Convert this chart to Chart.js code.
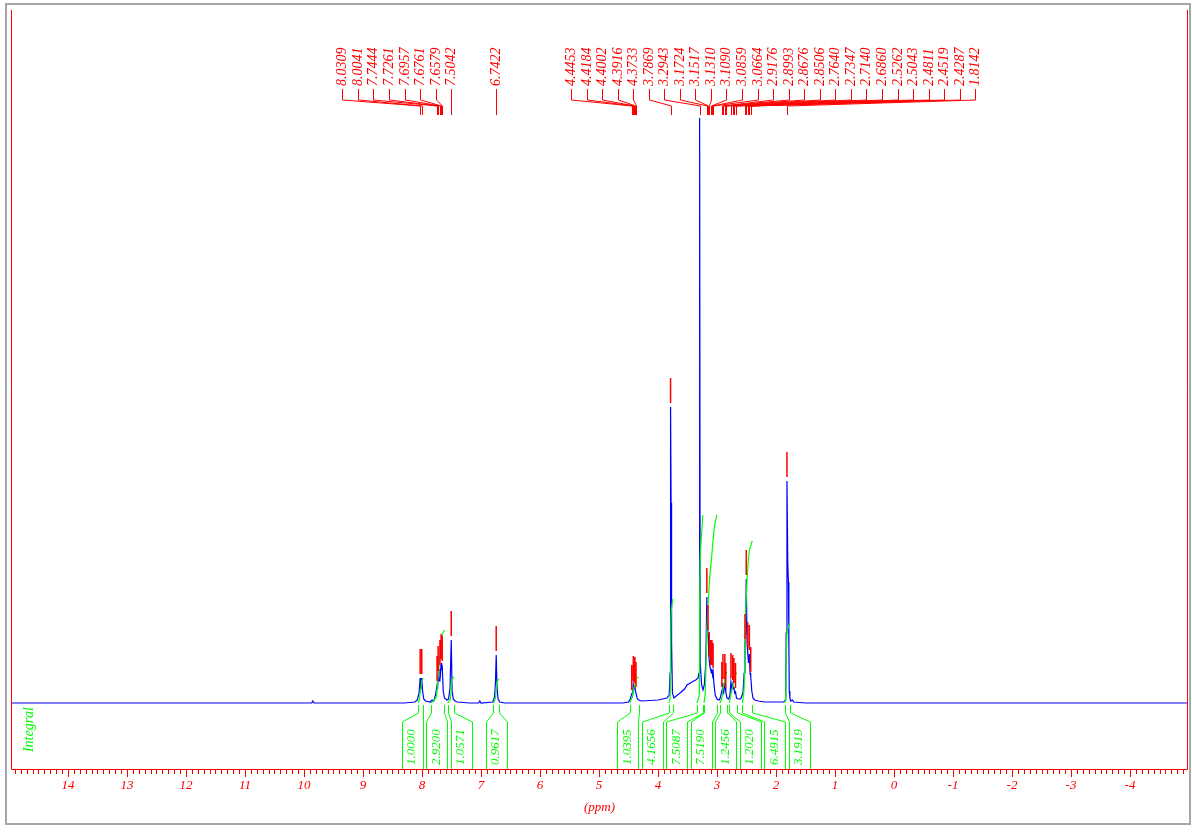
<!DOCTYPE html>
<html>
<head>
<meta charset="utf-8">
<title>1H NMR</title>
<script src="https://cdn.jsdelivr.net/npm/chart.js@4.4.1/dist/chart.umd.min.js"></script>
<style>
  html, body { margin: 0; padding: 0; background: #fff; }
  #wrap { width: 1192px; height: 832px; }
</style>
</head>
<body>
<div id="wrap"><canvas id="nmr" width="1192" height="832"></canvas></div>
<script>
// Spectrum trace (ppm, intensity)
const specPpm = [
  14.97, 10.0, 9.87, 9.85, 9.83,
  8.3, 8.12, 8.08, 8.05, 8.0309, 8.018, 8.0041, 7.99, 7.97, 7.94,
  7.86, 7.83, 7.80, 7.77, 7.7444, 7.735, 7.7261, 7.71, 7.6957, 7.686, 7.6761, 7.667, 7.6579, 7.64, 7.62,
  7.58, 7.55, 7.525, 7.5042, 7.49, 7.47, 7.44, 7.40,
  7.2, 7.04, 7.02, 7.00,
  6.80, 6.77, 6.755, 6.7422, 6.728, 6.71, 6.68, 6.6,
  4.6, 4.5, 4.47, 4.4453, 4.432, 4.4184, 4.409, 4.4002, 4.3916, 4.382, 4.3733, 4.355, 4.33, 4.28,
  4.0, 3.85, 3.81, 3.795, 3.7869, 3.778, 3.770, 3.755, 3.73,
  3.712, 3.627, 3.55, 3.508, 3.424, 3.36, 3.32, 3.305, 3.2943, 3.285, 3.26, 3.237,
  3.215, 3.19, 3.1724, 3.162, 3.1517, 3.14, 3.1310, 3.12, 3.1090, 3.097, 3.0859, 3.075, 3.0664, 3.05, 3.03, 3.00,
  2.96, 2.94, 2.9176, 2.908, 2.8993, 2.883, 2.8676, 2.858, 2.8506, 2.83,
  2.80, 2.78, 2.7640, 2.75, 2.7347, 2.724, 2.7140, 2.70, 2.6860, 2.67, 2.64,
  2.60, 2.56, 2.54, 2.5262, 2.515, 2.5043, 2.49, 2.4811, 2.466, 2.4519, 2.44, 2.4287, 2.41, 2.39, 2.36,
  2.30, 2.20, 2.0,
  1.87, 1.845, 1.835, 1.828, 1.8142, 1.800, 1.790, 1.782, 1.775, 1.765, 1.75, 1.72, 1.70, 1.5,
  -4.98
];
const specInt = [
  0, 0, 0, 2, 0,
  0, 1, 3, 10, 25, 14, 25, 12, 4, 2,
  1, 3, 2, 8, 18, 14, 28, 22, 34, 30, 40, 33, 38, 12, 5,
  3, 4, 15, 63, 12, 4, 2, 1,
  0, 0, 2, 0,
  1, 6, 20, 48, 15, 4, 1, 0,
  0, 1, 4, 9, 7, 18, 14, 16, 17, 12, 12, 5, 3, 2,
  3, 5, 8, 30, 296, 200, 60, 10, 5,
  6, 10, 14, 18, 21, 23, 25, 30, 585, 40, 18, 13,
  18, 40, 106, 80, 69, 50, 42, 36, 34, 30, 34, 28, 31, 18, 8, 4,
  3, 6, 12, 10, 20, 12, 20, 15, 11, 5,
  4, 8, 21, 15, 19, 14, 16, 10, 11, 5, 4,
  4, 10, 30, 60, 70, 124, 60, 52, 40, 49, 30, 27, 12, 5, 3,
  2, 1, 1,
  1, 3, 8, 70, 222, 140, 121, 60, 12, 5, 2, 3, 1, 0,
  0
];

// Picked peaks
const peakPpm = [
  8.0309, 8.0041, 7.7444, 7.7261, 7.6957, 7.6761, 7.6579, 7.5042,
  6.7422,
  4.4453, 4.4184, 4.4002, 4.3916, 4.3733, 3.7869, 3.2943,
  3.1724, 3.1517, 3.1310, 3.1090, 3.0859, 3.0664,
  2.9176, 2.8993, 2.8676, 2.8506, 2.7640, 2.7347, 2.7140, 2.6860,
  2.5262, 2.5043, 2.4811, 2.4519, 2.4287, 1.8142
];
const peakInt = [
  25, 25, 18, 28, 34, 40, 38, 63,
  48,
  9, 18, 16, 17, 12, 296, 585,
  106, 69, 42, 34, 34, 31,
  12, 20, 20, 11, 21, 19, 16, 11,
  60, 124, 52, 49, 27, 222
];

// Integrals
const integralValue = [1.0000, 2.9200, 1.0571, 0.9617, 1.0395, 4.1656, 7.5087, 7.5190, 1.2456, 1.2020, 6.4915, 3.1919];
const integralFrom = [8.07, 7.84, 7.56, 6.79, 4.48, 3.82, 3.34, 3.22, 2.95, 2.79, 2.57, 1.85];
const integralTo   = [7.98, 7.62, 7.45, 6.70, 4.33, 3.75, 3.24, 3.00, 2.83, 2.66, 2.40, 1.77];
const integralCurvePpm = [
  [8.07, 8.045, 8.032, 8.018, 8.003, 7.98],
  [7.84, 7.76, 7.73, 7.69, 7.66, 7.62],
  [7.56, 7.52, 7.505, 7.49, 7.45],
  [6.79, 6.755, 6.742, 6.728, 6.70],
  [4.48, 4.445, 4.418, 4.392, 4.373, 4.33],
  [3.82, 3.795, 3.787, 3.776, 3.75],
  [3.34, 3.30, 3.292, 3.28, 3.24],
  [3.22, 3.20, 3.17, 3.13, 3.085, 3.04, 3.00],
  [2.95, 2.918, 2.90, 2.868, 2.85, 2.83],
  [2.79, 2.764, 2.735, 2.714, 2.686, 2.66],
  [2.57, 2.54, 2.508, 2.458, 2.41, 2.40],
  [1.85, 1.835, 1.828, 1.814, 1.78, 1.77]
];
const integralCurveInt = [
  [0, 3, 10, 14, 22, 25],
  [0, 6, 25, 50, 68, 73],
  [0, 4, 15, 24, 26],
  [0, 5, 14, 21, 24],
  [0, 5, 12, 19, 24, 26],
  [0, 5, 50, 90, 104],
  [0, 8, 110, 150, 188],
  [0, 10, 76, 120, 150, 178, 188],
  [0, 5, 13, 23, 29, 31],
  [0, 8, 16, 24, 29, 30],
  [0, 15, 100, 150, 161, 162],
  [0, 5, 40, 70, 78, 80]
];

const axisTicks = [14, 13, 12, 11, 10, 9, 8, 7, 6, 5, 4, 3, 2, 1, 0, -1, -2, -3, -4];

const RED = '#ff0000', BLUE = '#0000ff', GREEN = '#00ff00';
const SERIF = '"Liberation Serif", "DejaVu Serif", serif';

// peak labels sit in evenly spaced rows above the spectrum
const labelGroups = [
  { first: 0, last: 7, anchorPpm: 7.5042, side: 'end' },
  { first: 8, last: 8, anchorPpm: 6.7422, side: 'end' },
  { first: 9, last: 35, anchorPpm: 5.475, side: 'start' }
];
const labelStep = 15.55;

function spreadCenters(xs, gap) {
  let groups = xs.map((v, i) => ({ ids: [i], c: v }));
  let merged = true;
  while (merged) {
    merged = false;
    for (let k = 0; k < groups.length - 1; k++) {
      const g1 = groups[k], g2 = groups[k + 1];
      const end1 = g1.c + (g1.ids.length - 1) * gap / 2;
      const start2 = g2.c - (g2.ids.length - 1) * gap / 2;
      if (start2 - end1 < gap) {
        const ids = g1.ids.concat(g2.ids);
        const c = ids.reduce((s, id) => s + xs[id], 0) / ids.length;
        groups.splice(k, 2, { ids, c });
        merged = true;
        break;
      }
    }
  }
  const out = [];
  groups.forEach(g => g.ids.forEach((id, j) => { out[id] = g.c + (j - (g.ids.length - 1) / 2) * gap; }));
  return out;
}

function markerPoints() {
  const pts = [];
  peakPpm.forEach((p, i) => {
    const lo = peakInt[i] + 4, hi = Math.min(peakInt[i] + 29, 588);
    if (hi > lo) pts.push({ x: p, y: lo }, { x: p, y: hi }, { x: p, y: null });
  });
  return pts;
}

const nmrDecor = {
  id: 'nmrDecor',
  afterDraw(chart) {
    const { ctx, chartArea: a, scales: { x, y } } = chart;
    const base = y.getPixelForValue(0);
    ctx.save();

    // outer grey frame
    ctx.strokeStyle = '#a6a6a6';
    ctx.lineWidth = 2;
    ctx.strokeRect(6, 4, 1184, 820);

    // red plot frame
    ctx.strokeStyle = RED;
    ctx.lineWidth = 1;
    ctx.beginPath();
    ctx.moveTo(a.left + 0.5, a.top);
    ctx.lineTo(a.left + 0.5, a.bottom + 0.5);
    ctx.lineTo(a.right - 0.5, a.bottom + 0.5);
    ctx.lineTo(a.right - 0.5, a.top);
    ctx.stroke();

    // ppm axis ticks
    ctx.beginPath();
    for (let t = -49; t <= 149; t++) {
      const px = Math.round(x.getPixelForValue(t / 10)) + 0.5;
      const len = t % 10 === 0 ? 8 : 5;
      ctx.moveTo(px, a.bottom);
      ctx.lineTo(px, a.bottom + len);
    }
    ctx.stroke();
    ctx.fillStyle = RED;
    ctx.font = 'italic 13px ' + SERIF;
    ctx.textAlign = 'center';
    ctx.textBaseline = 'middle';
    axisTicks.forEach(v => ctx.fillText(String(v), x.getPixelForValue(v), a.bottom + 17));
    ctx.fillText('(ppm)', (a.left + a.right) / 2, a.bottom + 39);

    // peak labels with connectors
    ctx.font = 'italic 14px ' + SERIF;
    ctx.textAlign = 'left';
    ctx.beginPath();
    labelGroups.forEach(g => {
      const n = g.last - g.first + 1;
      const ax = x.getPixelForValue(g.anchorPpm);
      for (let k = 0; k < n; k++) {
        const i = g.first + k;
        const lx = Math.round(g.side === 'end' ? ax - (n - 1 - k) * labelStep : ax + k * labelStep) + 0.5;
        const px = Math.round(x.getPixelForValue(peakPpm[i])) + 0.5;
        ctx.moveTo(lx, 89);
        ctx.lineTo(lx, 100);
        ctx.lineTo(px, 106);
        ctx.lineTo(px, 115);
        ctx.save();
        ctx.translate(lx, 86);
        ctx.rotate(-Math.PI / 2);
        ctx.fillText(peakPpm[i].toFixed(4), 0, 0);
        ctx.restore();
      }
    });
    ctx.stroke();

    // integral brackets and values
    const centers = integralFrom.map((f, i) => x.getPixelForValue((f + integralTo[i]) / 2));
    const boxX = spreadCenters(centers, 24.5);
    ctx.strokeStyle = GREEN;
    ctx.fillStyle = GREEN;
    ctx.font = 'italic 13px ' + SERIF;
    ctx.beginPath();
    integralValue.forEach((v, i) => {
      const x1 = Math.round(x.getPixelForValue(integralFrom[i])) + 0.5;
      const x2 = Math.round(x.getPixelForValue(integralTo[i])) + 0.5;
      const bl = Math.round(boxX[i] - 10.5) + 0.5, br = Math.round(boxX[i] + 10.5) + 0.5;
      ctx.moveTo(x1, base + 2); ctx.lineTo(x1, base + 10); ctx.lineTo(bl, base + 19); ctx.lineTo(bl, a.bottom);
      ctx.moveTo(x2, base + 2); ctx.lineTo(x2, base + 10); ctx.lineTo(br, base + 19); ctx.lineTo(br, a.bottom);
      ctx.save();
      ctx.translate(boxX[i], a.bottom - 4);
      ctx.rotate(-Math.PI / 2);
      ctx.textAlign = 'left';
      ctx.fillText(v.toFixed(4), 0, 0);
      ctx.restore();
    });
    ctx.stroke();

    ctx.save();
    ctx.font = 'italic 14px ' + SERIF;
    ctx.translate(a.left + 18, base + 4);
    ctx.rotate(-Math.PI / 2);
    ctx.textAlign = 'right';
    ctx.fillText('Integral', 0, 0);
    ctx.restore();

    ctx.restore();
  }
};

const datasets = [
  {
    data: specPpm.map((p, i) => ({ x: p, y: specInt[i] })),
    borderColor: BLUE, borderWidth: 1.2, pointRadius: 0, tension: 0, order: 3
  }
];
integralCurvePpm.forEach((arr, k) => {
  datasets.push({
    data: arr.map((p, i) => ({ x: p, y: integralCurveInt[k][i] })),
    borderColor: GREEN, borderWidth: 1.2, pointRadius: 0, tension: 0.3, order: 2
  });
});
datasets.push({
  data: markerPoints(),
  borderColor: RED, borderWidth: 1.5, pointRadius: 0, spanGaps: false, order: 1
});

new Chart(document.getElementById('nmr'), {
  type: 'line',
  data: { datasets },
  options: {
    responsive: false,
    animation: false,
    devicePixelRatio: 1,
    layout: { padding: { left: 11, right: 4, top: 10, bottom: 63 } },
    plugins: { legend: { display: false }, tooltip: { enabled: false } },
    scales: {
      x: { type: 'linear', min: -4.983, max: 14.966, reverse: true, display: false },
      y: { type: 'linear', min: -66, max: 693, display: false }
    }
  },
  plugins: [nmrDecor]
});
</script>
</body>
</html>
